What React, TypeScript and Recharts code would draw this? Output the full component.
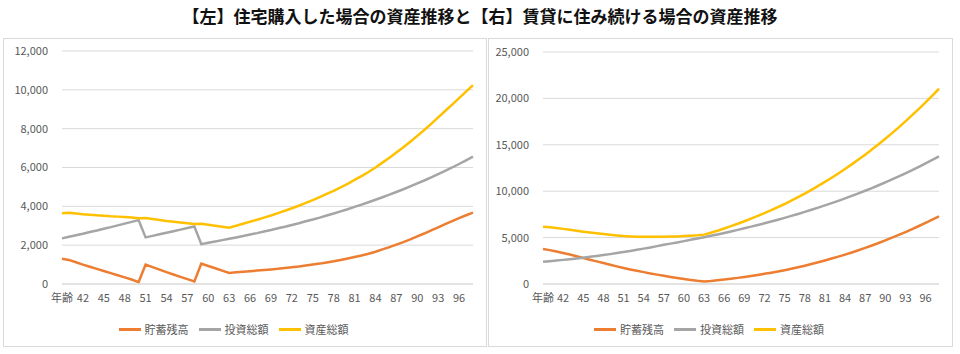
import React from 'react';
import { LineChart, Line, XAxis, YAxis, CartesianGrid, Legend } from 'recharts';

// 年齢 (the header cell ends up as the first category), then 40..98
const ages = ['年齢', ...Array.from({ length: 59 }, (_, i) => String(40 + i))];

// 【左】住宅購入
const buySavings = [
  1300, 1240, 1120, 1000, 890, 780, 670, 560, 450, 340, 230, 100,
  1000, 870, 740, 610, 490, 370, 250, 130,
  1050, 930, 810, 690, 570, 600, 630, 660, 690, 720, 750, 780, 820, 860, 900, 950,
  1000, 1050, 1110, 1170, 1240, 1310, 1390, 1470, 1560, 1660, 1780, 1900, 2030, 2160,
  2300, 2450, 2600, 2760, 2920, 3080, 3240, 3390, 3540, 3680,
];
const buyInvest = [
  2350, 2430, 2510, 2590, 2680, 2760, 2850, 2930, 3020, 3110, 3200, 3290,
  2400, 2480, 2560, 2640, 2720, 2800, 2880, 2960,
  2050, 2120, 2190, 2260, 2330, 2400, 2470, 2550, 2620, 2700, 2780, 2870, 2950, 3040, 3130, 3230,
  3320, 3420, 3530, 3630, 3740, 3850, 3970, 4090, 4210, 4340, 4470, 4600, 4740, 4880,
  5030, 5180, 5330, 5490, 5660, 5830, 6000, 6180, 6370, 6560,
];
const buyAssets = [
  3650, 3670, 3630, 3590, 3570, 3540, 3520, 3490, 3470, 3450, 3430, 3390,
  3400, 3350, 3300, 3250, 3210, 3170, 3130, 3090,
  3100, 3050, 3000, 2950, 2900, 3000, 3100, 3210, 3310, 3420, 3530, 3650, 3770, 3900, 4030, 4180,
  4320, 4470, 4640, 4800, 4980, 5160, 5360, 5560, 5770, 6000, 6250, 6500, 6770, 7040,
  7330, 7630, 7930, 8250, 8580, 8910, 9240, 9570, 9910, 10240,
];

// 【右】賃貸
const rentSavings = [
  3780, 3650, 3500, 3340, 3170, 2990, 2800, 2620, 2440, 2260, 2080, 1900,
  1730, 1570, 1420, 1280, 1140, 1010, 880, 760, 650, 540, 440, 350, 280,
  330, 400, 480, 570, 660, 760, 870, 980, 1100, 1220, 1350, 1490, 1640, 1800, 1970,
  2150, 2340, 2540, 2740, 2950, 3170, 3400, 3640, 3890, 4150, 4420, 4700, 4990, 5290,
  5600, 5920, 6250, 6590, 6940, 7290,
];
const rentInvest = [
  2400, 2460, 2530, 2600, 2670, 2750, 2840, 2930, 3020, 3120, 3220, 3330,
  3440, 3560, 3680, 3810, 3940, 4080, 4220, 4350, 4480, 4620, 4760, 4900, 5040,
  5190, 5340, 5500, 5660, 5830, 6000, 6180, 6360, 6540, 6730, 6930, 7130, 7340, 7550, 7770,
  8000, 8230, 8470, 8710, 8960, 9220, 9490, 9770, 10050, 10340, 10640, 10950, 11270, 11590,
  11930, 12270, 12630, 12990, 13370, 13750,
];
const rentAssets = [
  6180, 6110, 6030, 5940, 5840, 5740, 5640, 5550, 5460, 5380, 5300, 5230,
  5170, 5130, 5100, 5090, 5080, 5090, 5100, 5110, 5130, 5160, 5200, 5250, 5320,
  5520, 5740, 5980, 6230, 6490, 6760, 7050, 7340, 7640, 7950, 8280, 8620, 8980, 9350, 9740,
  10150, 10570, 11010, 11450, 11910, 12390, 12890, 13410, 13940, 14490, 15060, 15650, 16260, 16880,
  17530, 18190, 18880, 19580, 20310, 21040,
];

const leftTicks = [0, 2000, 4000, 6000, 8000, 10000, 12000];
const rightTicks = [0, 5000, 10000, 15000, 20000, 25000];

const seriesNames = ['貯蓄残高', '投資総額', '資産総額'];
const colors = ['#ED7D31', '#A5A5A5', '#FFC000'];

const buyData = ages.map((age, i) => ({
  age,
  savings: buySavings[i],
  invest: buyInvest[i],
  assets: buyAssets[i],
}));
const rentData = ages.map((age, i) => ({
  age,
  savings: rentSavings[i],
  invest: rentInvest[i],
  assets: rentAssets[i],
}));

const tickStyle = { fill: '#595959', fontSize: 11 };

// keep the legend in series order (recharts sorts it by name otherwise)
const renderLegend = (props: any) => {
  const items = [...(props.payload || [])].sort(
    (a: any, b: any) => seriesNames.indexOf(a.value) - seriesNames.indexOf(b.value)
  );
  return (
    <div style={{ display: 'flex', justifyContent: 'center', alignItems: 'center', height: 16, fontSize: 11, color: '#595959' }}>
      {items.map((p: any) => (
        <span key={p.value} style={{ display: 'inline-flex', alignItems: 'center', marginRight: 10 }}>
          <span style={{ display: 'inline-block', width: 22, height: 3, background: p.color, marginRight: 4 }} />
          {p.value}
        </span>
      ))}
    </div>
  );
};

const Panel = ({ data, ticks, width, yWidth, top }: { data: any[]; ticks: number[]; width: number; yWidth: number; top: number }) => (
  <LineChart width={width} height={307} data={data} margin={{ top, right: 13, left: 0, bottom: 9 }}>
    <CartesianGrid vertical={false} stroke="#D9D9D9" />
    <XAxis
      dataKey="age"
      interval={2}
      axisLine={{ stroke: '#D9D9D9' }}
      tickLine={false}
      tickSize={0}
      tickMargin={10}
      height={37}
      tick={tickStyle}
    />
    <YAxis
      width={yWidth}
      domain={[0, ticks[ticks.length - 1]]}
      ticks={ticks}
      axisLine={false}
      tickLine={false}
      tickSize={0}
      tickMargin={14}
      tick={tickStyle}
      tickFormatter={(v: number) => v.toLocaleString('en-US')}
    />
    <Legend verticalAlign="bottom" height={16} content={renderLegend} />
    <Line type="linear" dataKey="savings" name={seriesNames[0]} stroke={colors[0]} strokeWidth={2.5} dot={false} isAnimationActive={false} />
    <Line type="linear" dataKey="invest" name={seriesNames[1]} stroke={colors[1]} strokeWidth={2.5} dot={false} isAnimationActive={false} />
    <Line type="linear" dataKey="assets" name={seriesNames[2]} stroke={colors[2]} strokeWidth={2.5} dot={false} isAnimationActive={false} />
  </LineChart>
);

export default function App() {
  const box = { position: 'absolute' as const, top: 38, border: '1px solid #D9D9D9', background: '#fff' };
  return (
    <div style={{ position: 'absolute', left: 0, top: 0, width: 960, height: 354, background: '#fff', fontFamily: '"Noto Sans CJK JP", sans-serif' }}>
      <div style={{ position: 'absolute', left: 0, top: 5, width: 960, textAlign: 'center', fontSize: 17, fontWeight: 700, color: '#111', lineHeight: '22px' }}>
        【左】住宅購入した場合の資産推移と【右】賃貸に住み続ける場合の資産推移
      </div>
      <div style={{ ...box, left: 3 }}>
        <Panel data={buyData} ticks={leftTicks} width={482} yWidth={58} top={12} />
      </div>
      <div style={{ ...box, left: 488 }}>
        <Panel data={rentData} ticks={rightTicks} width={463} yWidth={54} top={13} />
      </div>
    </div>
  );
}
